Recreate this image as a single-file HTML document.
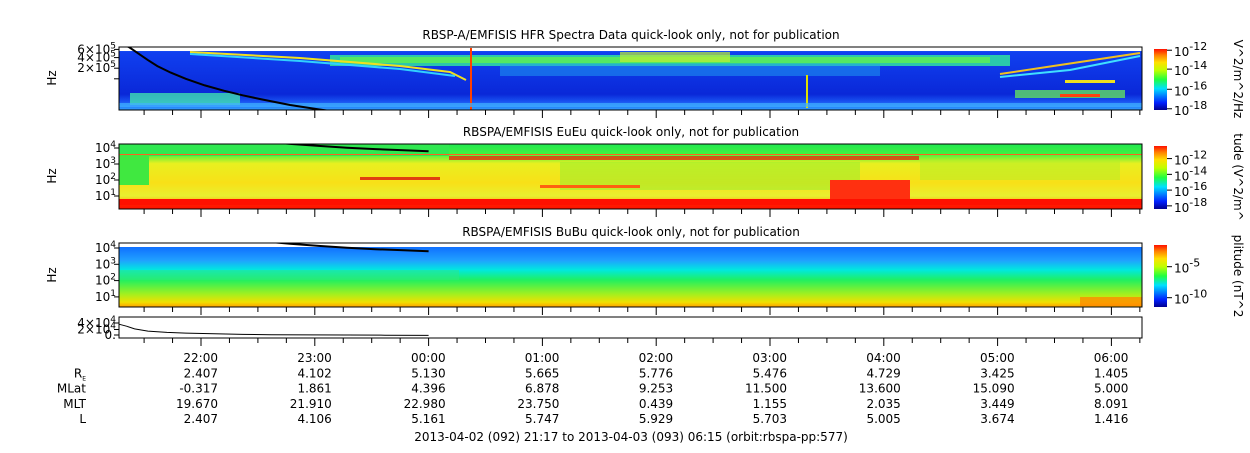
<!DOCTYPE html>
<html><head><meta charset="utf-8">
<style>
html,body{margin:0;padding:0;background:#fff;}
body{width:1250px;height:449px;overflow:hidden;font-family:"DejaVu Sans","Liberation Sans",sans-serif;}
svg text{font-family:"DejaVu Sans","Liberation Sans",sans-serif;font-size:12px;fill:#000;}
</style></head>
<body>
<svg id="chart" width="1250" height="449" viewBox="0 0 1250 449" xmlns="http://www.w3.org/2000/svg">
<defs>
 <linearGradient id="jet" x1="0" y1="1" x2="0" y2="0">
  <stop offset="0" stop-color="#00008f"/><stop offset="0.12" stop-color="#0020ff"/>
  <stop offset="0.35" stop-color="#00e0ff"/><stop offset="0.5" stop-color="#20ff40"/>
  <stop offset="0.65" stop-color="#c0ff00"/><stop offset="0.78" stop-color="#ffe000"/>
  <stop offset="0.9" stop-color="#ff8000"/><stop offset="1" stop-color="#ff1000"/>
 </linearGradient>
 <linearGradient id="g1" x1="0" y1="0" x2="0" y2="1">
  <stop offset="0" stop-color="#3a8cff"/><stop offset="0.08" stop-color="#1040f0"/>
  <stop offset="0.75" stop-color="#0a28d8"/><stop offset="0.86" stop-color="#1850f0"/>
  <stop offset="1" stop-color="#30a0ff"/>
 </linearGradient>
 <linearGradient id="g2" x1="0" y1="0" x2="0" y2="1">
  <stop offset="0" stop-color="#20e850"/><stop offset="0.15" stop-color="#40f040"/>
  <stop offset="0.3" stop-color="#e8f020"/><stop offset="0.6" stop-color="#f8e018"/>
  <stop offset="0.8" stop-color="#e8f030"/><stop offset="0.9" stop-color="#ffb010"/>
  <stop offset="0.91" stop-color="#ff2000"/><stop offset="1" stop-color="#ff1000"/>
 </linearGradient>
 <linearGradient id="g3" x1="0" y1="0" x2="0" y2="1">
  <stop offset="0" stop-color="#1070ff"/><stop offset="0.22" stop-color="#20a0ff"/>
  <stop offset="0.38" stop-color="#00e8e0"/><stop offset="0.55" stop-color="#20f060"/>
  <stop offset="0.78" stop-color="#a0f020"/><stop offset="0.92" stop-color="#f0e000"/>
  <stop offset="1" stop-color="#ffa000"/>
 </linearGradient>
 <clipPath id="c1"><rect x="119" y="47" width="1023" height="63"/></clipPath>
 <clipPath id="c2"><rect x="119" y="144" width="1023" height="65"/></clipPath>
 <clipPath id="c3"><rect x="119" y="243" width="1023" height="64"/></clipPath>
 <clipPath id="c4"><rect x="119" y="317" width="1023" height="21"/></clipPath>
</defs>

<text x="631" y="39" text-anchor="middle">RBSP-A/EMFISIS  HFR Spectra Data quick-look only, not for publication</text>
<g clip-path="url(#c1)">
 <rect x="119" y="47" width="1023" height="63" fill="url(#g1)"/>
 <rect x="119" y="47" width="1023" height="4" fill="#fff"/>
 <rect x="330" y="55" width="680" height="11" fill="#30e0a0" opacity="0.85"/>
 <rect x="340" y="57" width="650" height="6" fill="#60f050" opacity="0.8"/>
 <rect x="620" y="52" width="110" height="10" fill="#c0f030" opacity="0.7"/>
 <rect x="500" y="64" width="380" height="12" fill="#20a0f0" opacity="0.5"/>
 <path d="M190,52 L300,58 L400,66 L450,72 L466,80" stroke="#f0e020" stroke-width="2" fill="none"/>
 <path d="M190,54 L300,61 L400,69 L455,76" stroke="#30d0ff" stroke-width="2" fill="none"/>
 <path d="M1000,74 L1060,65 L1140,53" stroke="#f0c020" stroke-width="2" fill="none"/>
 <path d="M1000,77 L1070,70 L1140,56" stroke="#40e0ff" stroke-width="2" fill="none"/>
 <rect x="470" y="48" width="2" height="62" fill="#ff4000"/>
 <rect x="806" y="75" width="2" height="33" fill="#e0e000"/>
 <rect x="130" y="93" width="110" height="12" fill="#40e0b0" opacity="0.8"/>
 <rect x="1015" y="90" width="110" height="8" fill="#60e060" opacity="0.8"/>
 <rect x="1060" y="94" width="40" height="3" fill="#ff4010"/>
 <rect x="1065" y="80" width="50" height="3" fill="#f0e020"/>
 <rect x="119" y="103" width="1023" height="4" fill="#40b0ff" opacity="0.7"/>
</g>
<rect x="119" y="47" width="1023" height="63" fill="none" stroke="#000"/>

<text x="631" y="136" text-anchor="middle">RBSPA/EMFISIS  EuEu quick-look only, not for publication</text>
<g clip-path="url(#c2)">
 <rect x="119" y="144" width="1023" height="65" fill="url(#g2)"/>
 <rect x="119" y="144" width="330" height="12" fill="#30e850"/>
 <rect x="119" y="155" width="30" height="30" fill="#40e840"/>
 <rect x="449" y="156" width="470" height="4" fill="#e03010" opacity="0.8"/>
 <rect x="560" y="162" width="300" height="28" fill="#90f030" opacity="0.5"/>
 <rect x="920" y="160" width="200" height="20" fill="#b0f028" opacity="0.5"/>
 <rect x="360" y="177" width="80" height="3" fill="#e04010"/>
 <rect x="540" y="185" width="100" height="3" fill="#ff6010"/>
 <rect x="830" y="180" width="80" height="19" fill="#ff3010"/>
 <rect x="119" y="154" width="1023" height="1" fill="#ff6020"/>
 <rect x="119" y="199" width="1023" height="6" fill="#ff1000"/>
</g>
<rect x="119" y="144" width="1023" height="65" fill="none" stroke="#000"/>

<text x="631" y="236" text-anchor="middle">RBSPA/EMFISIS  BuBu quick-look only, not for publication</text>
<g clip-path="url(#c3)">
 <rect x="119" y="247" width="1023" height="60" fill="url(#g3)"/>
 <rect x="119" y="270" width="340" height="10" fill="#30e880" opacity="0.5"/>
 <rect x="1080" y="297" width="62" height="9" fill="#ff8000" opacity="0.7"/>
</g>
<rect x="119" y="243" width="1023" height="64" fill="none" stroke="#000"/>

<rect x="119" y="317" width="1023" height="21" fill="none" stroke="#000"/>

<rect x="1154" y="49" width="13" height="61" fill="url(#jet)"/>
<rect x="1154" y="146" width="13" height="63" fill="url(#jet)"/>
<rect x="1154" y="245" width="13" height="62" fill="url(#jet)"/>

<g id="dyn"></g>
</svg>
<script>
const fceTimes = [0,5,10,15,20,27,35,45,55,65,75,90,105,120,135,150,163];
const fceValues = [1.0e6,8e5,5.2e5,3.4e5,2.3e5,1.5e5,1.0e5,6.5e4,4.6e4,3.4e4,2.6e4,1.8e4,1.35e4,1.05e4,8.5e3,7.2e3,6.3e3];
const densTimes = [0,4,8,15,25,35,50,65,80,100,120,140,163];
const densValues = [3.6e4,3.0e4,2.2e4,1.5e4,1.1e4,9e3,7e3,5e3,4e3,3.5e3,3e3,2.5e3,2e3];
const hourLabels = ["22:00","23:00","00:00","01:00","02:00","03:00","04:00","05:00","06:00"];
const rowNames = ["MLat","MLT","L"];
const reValues = ["2.407","4.102","5.130","5.665","5.776","5.476","4.729","3.425","1.405"];
const mlatValues = ["-0.317","1.861","4.396","6.878","9.253","11.500","13.600","15.090","5.000"];
const mltValues = ["19.670","21.910","22.980","23.750","0.439","1.155","2.035","3.449","8.091"];
const lValues = ["2.407","4.106","5.161","5.747","5.929","5.703","5.005","3.674","1.416"];
const cb1Labels = ["-12","-14","-16","-18"];
const cb2Labels = ["-12","-14","-16","-18"];
const cb3Labels = ["-5","-10"];

const NS="http://www.w3.org/2000/svg";
const g=document.getElementById('dyn');
function mk(tag,attrs,parent){const e=document.createElementNS(NS,tag);for(const k in attrs)e.setAttribute(k,attrs[k]);(parent||g).appendChild(e);return e;}
const X0=119, X1=1142, PXMIN=113.8/60, T22=43;
const xT=t=>201+(t-T22)*PXMIN;
const y1=f=>47+63*Math.log10(8e5/f)/Math.log10(8e5/1.3e4);
const y2=f=>148+(4-Math.log10(f))*16;
const y3=f=>248+(4-Math.log10(f))*16.3;
const y4=v=>336-v/4e4*13;

function line(ts,vs,yf,clip,name,w){
  const d=ts.map((t,i)=>(i?'L':'M')+xT(t).toFixed(1)+','+yf(vs[i]).toFixed(1)).join(' ');
  const p=mk('path',{d:d,stroke:'#000','stroke-width':w,fill:'none','clip-path':'url(#'+clip+')'});
  
  
}
line(fceTimes,fceValues,y1,'c1','fce-line-hfr',2);
line(fceTimes,fceValues,y2,'c2','fce-line-eueu',2);
line(fceTimes,fceValues,y3,'c3','fce-line-bubu',2);
line(densTimes,densValues,y4,'c4','density-line',1);

[110,209,307,338].forEach(yb=>{
  for(let t=T22-30;t<=T22+60*8+30;t+=15){
    const x=xT(t); if(x<X0||x>X1+1) continue;
    const major=((t-T22)%60)===0;
    const tk=mk('line',{x1:x,x2:x,y1:yb,y2:yb+(major?8:5),stroke:'#000'});
    
    
  }
});
hourLabels.forEach((h,i)=>{
  const x=xT(T22+60*i)+17;
  const tx=mk('text',{x:x,y:362,'text-anchor':'end'});tx.textContent=h;
  
  
  [reValues,mlatValues,mltValues,lValues].forEach((arr,r)=>{
    const c=mk('text',{x:x,y:377.5+r*15.2,'text-anchor':'end'});c.textContent=arr[i];
    
    
  });
});
const re=mk('text',{x:86,y:377.5,'text-anchor':'end'});re.innerHTML='R<tspan font-size="6" dy="3">E</tspan>';


rowNames.forEach((n,r)=>{const t=mk('text',{x:86,y:392.7+r*15.2,'text-anchor':'end'});t.textContent=n;
 
 });
const ft=mk('text',{x:631,y:441,'text-anchor':'middle'});ft.textContent='2013-04-02 (092) 21:17 to 2013-04-03 (093) 06:15 (orbit:rbspa-pp:577)';



function ylab(y,base,exp,name){
  const t=mk('text',{x:116,y:y+4,'text-anchor':'end'});
  t.innerHTML=base+(exp?'<tspan font-size="9" dy="-5">'+exp+'</tspan>':'');
  
  
  mk('line',{x1:114,x2:119,y1:y,y2:y,stroke:'#000'});
}
ylab(y1(6e5)-2,'6×10','5','y-label-hfr');ylab(y1(4e5),'4×10','5','y-label-hfr');ylab(y1(2e5),'2×10','5','y-label-hfr');
mk('line',{x1:114,x2:119,y1:y1(1e5),y2:y1(1e5),stroke:'#000'});
[4,3,2,1].forEach(e=>{ylab(y2(Math.pow(10,e)),'10',e,'y-label-eueu');ylab(y3(Math.pow(10,e)),'10',e,'y-label-bubu');});
ylab(y4(4e4),'4×10','4','y-label-density');ylab(y4(2e4),'2×10','4','y-label-density');ylab(y4(0)-1,'0.','','y-label-density');
[[78,'hz-hfr'],[176,'hz-eueu'],[275,'hz-bubu']].forEach(([y,n])=>{
  const t=mk('text',{x:0,y:0,transform:'translate(56,'+y+') rotate(-90)','text-anchor':'middle'});t.textContent='Hz';
  
  
});
function cblab(y0,h,labels,name,pos){
  labels.forEach((l,i)=>{const y=y0+pos[i]*h;
    mk('line',{x1:1167,x2:1172,y1:y,y2:y,stroke:'#000'});
    const t=mk('text',{x:1174,y:y+6,'font-size':'13'});t.innerHTML='10<tspan font-size="11" dy="-6">'+l+'</tspan>';
    
    });
}
cblab(49,61,cb1Labels,'colorbar-hfr-label',[0.02,0.33,0.66,0.98]);
cblab(146,63,cb2Labels,'colorbar-eueu-label',[0.2,0.45,0.7,0.95]);
cblab(245,62,cb3Labels,'colorbar-bubu-label',[0.35,0.85]);
[[79,'V^2/m^2/Hz','cb-title-hfr'],[177,'tude (V^2/m^','cb-title-eueu'],[276,'plitude (nT^2','cb-title-bubu']].forEach(([y,s,n])=>{
  const t=mk('text',{x:0,y:0,transform:'translate(1234,'+y+') rotate(90)','text-anchor':'middle'});t.textContent=s;
  
  
});
</script>
</body></html>
